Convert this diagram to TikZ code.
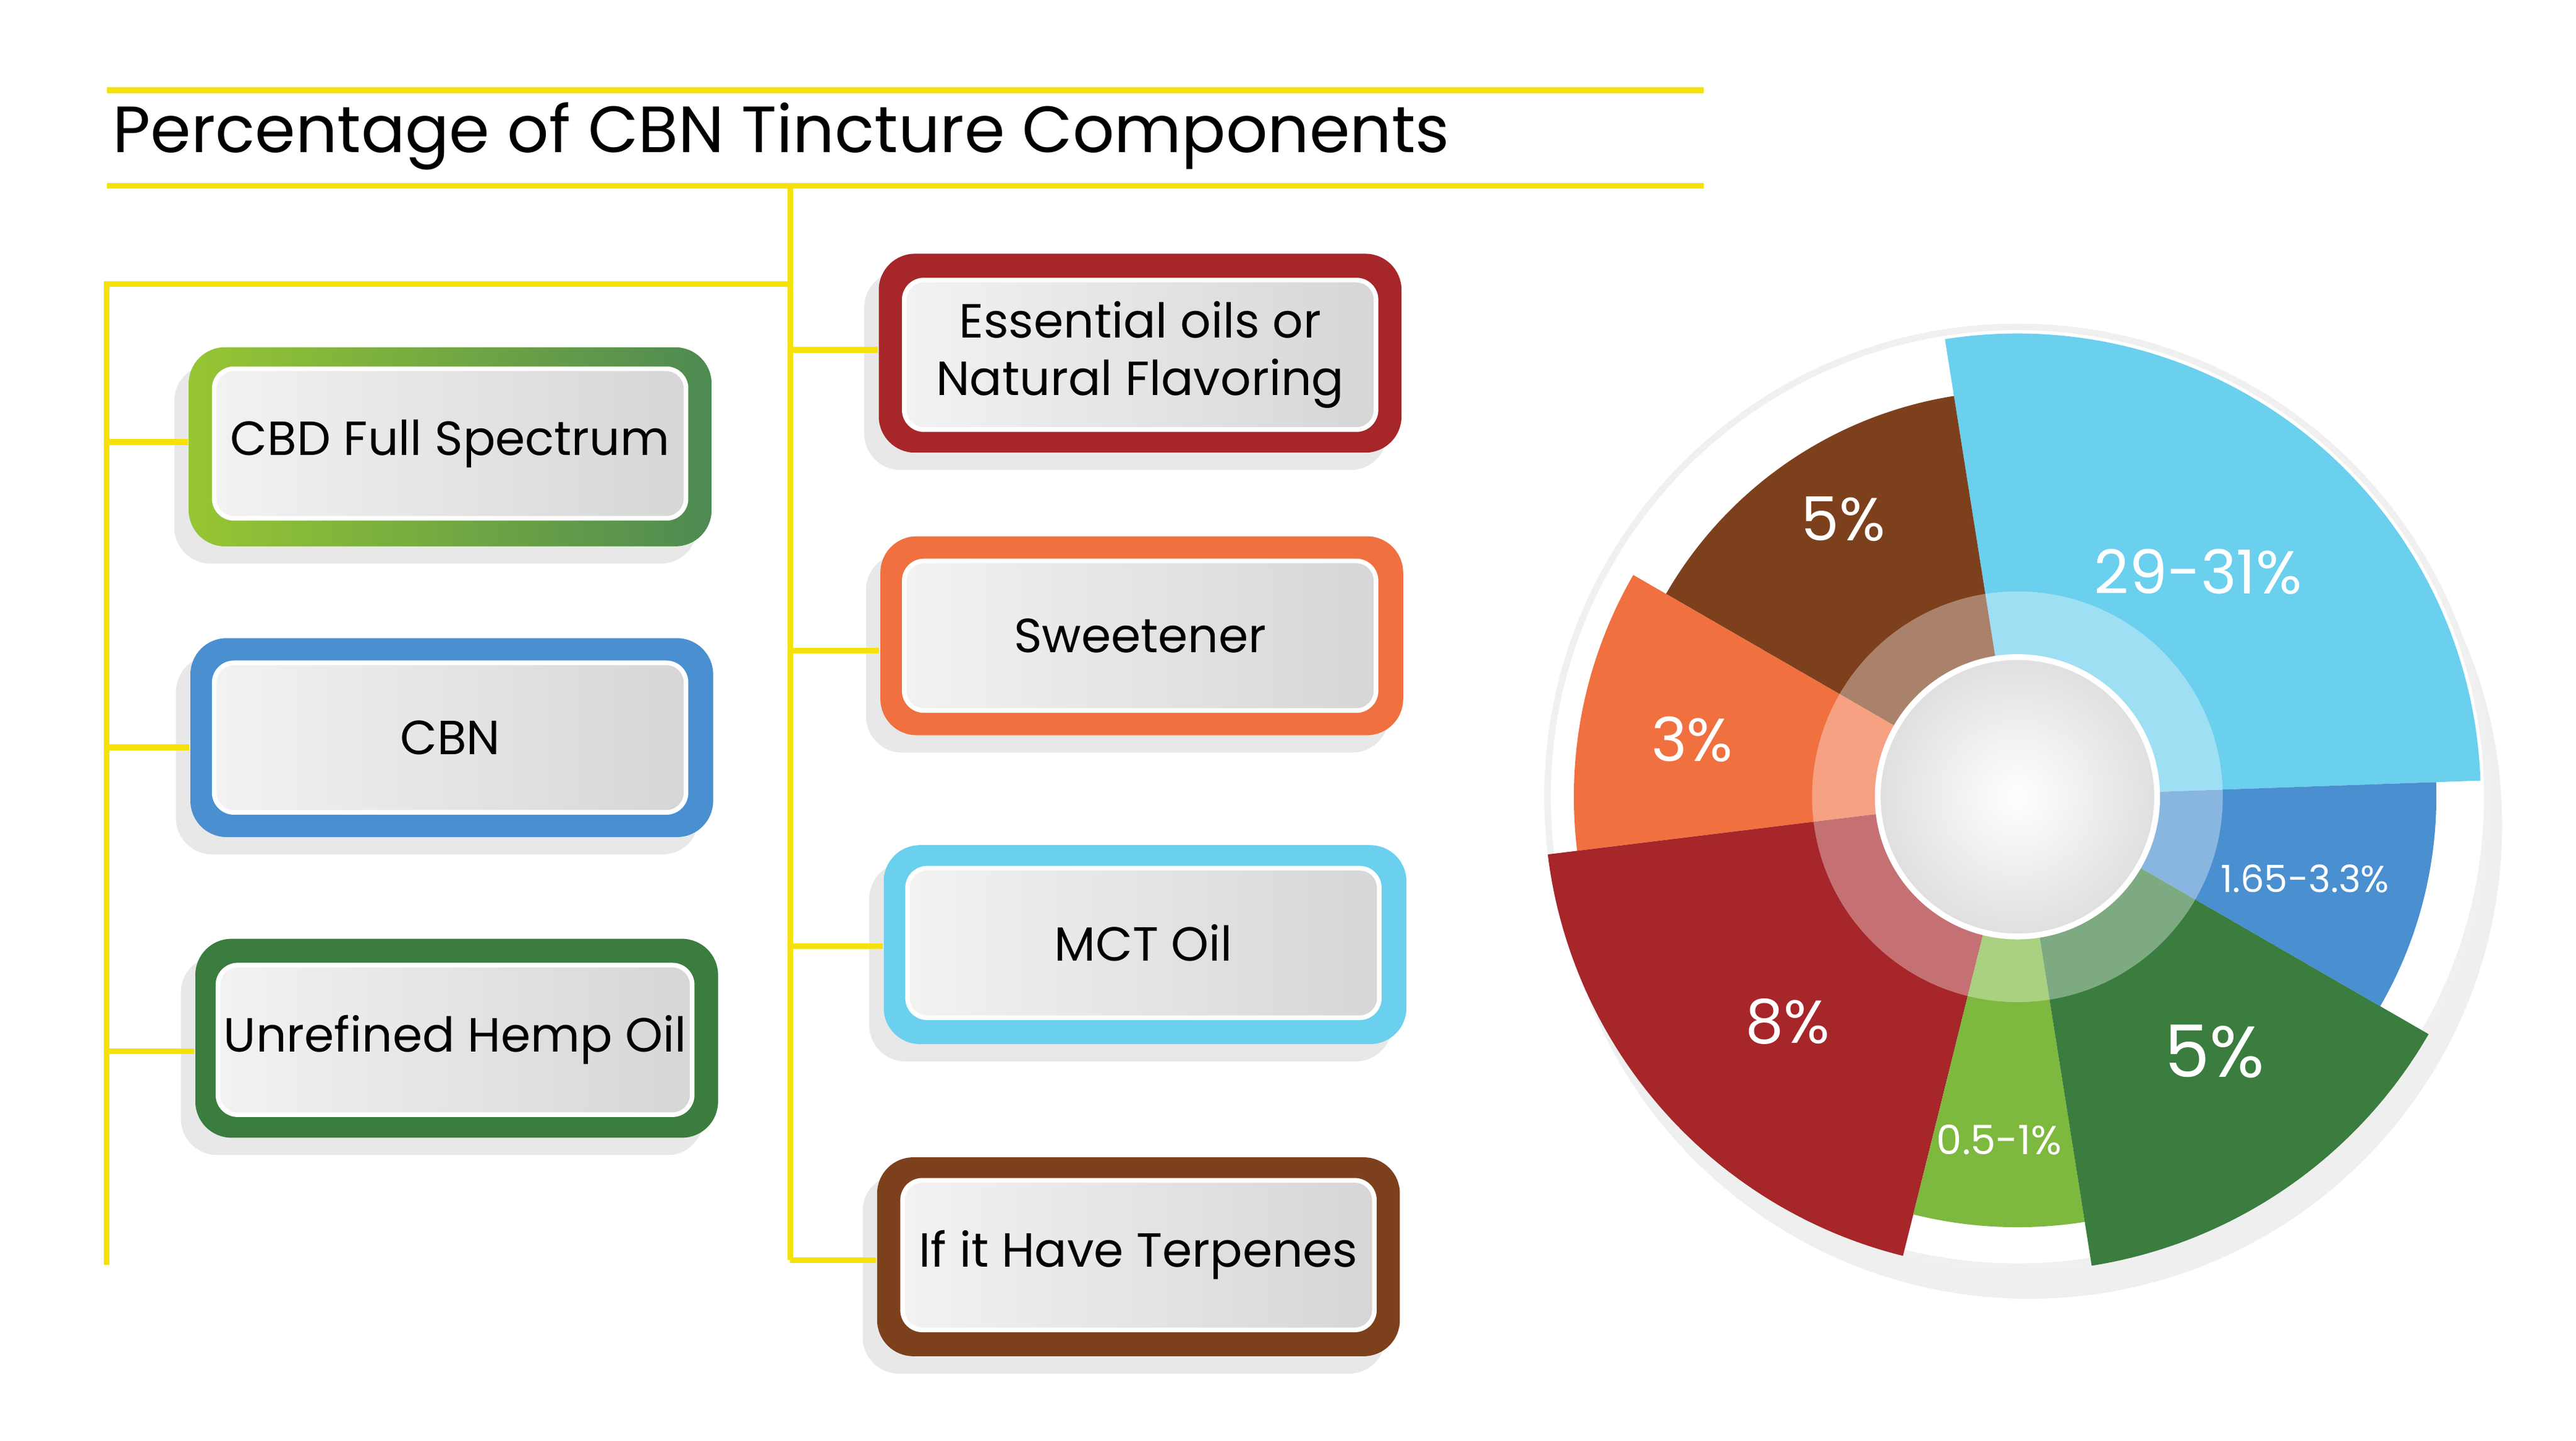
\documentclass[tikz,border=0pt]{standalone}
\usepackage{fontspec}
\setmainfont{Poppins}
\usetikzlibrary{positioning, shadows}
\definecolor{cgreen}{HTML}{3A7D3F}
\definecolor{clime}{HTML}{7DB83F}
\definecolor{cblue}{HTML}{4A8FD0}
\definecolor{cred}{HTML}{A6262A}
\definecolor{corange}{HTML}{F07040}
\definecolor{csky}{HTML}{6BCFEE}
\definecolor{cbrown}{HTML}{7D401D}
\definecolor{cyel}{HTML}{F5E10A}
\tikzset{
  frame/.style={rounded corners=0.22cm, minimum width=3.18cm, minimum height=1.21cm, fill=#1,
    drop shadow={shadow xshift=-2.5pt, shadow yshift=-3pt, fill=gray!35}},
  tag/.style={rounded corners=0.12cm, minimum width=2.87cm, minimum height=0.91cm,
    left color=gray!10, right color=gray!32, draw=white, line width=0.8pt,
    font=\fontsize{8.3}{10}\selectfont, align=center, inner sep=1pt},
  branch/.style={cyel, line width=1pt},
  pct/.style={text=white, font=\fontsize{#1}{#1}\selectfont}
}
\begin{document}
\begin{tikzpicture}[x=0.01cm, y=-0.01cm]
\useasboundingbox (0,0) rectangle (1568,877);
% title and rules
\draw[branch] (65,55) -- (1037,55);
\draw[branch] (65,113) -- (1037,113);
\node[anchor=west, inner sep=0pt, font=\fontsize{11.3}{13}\selectfont] (title) at (68,83) {Percentage of CBN Tincture Components};
\coordinate (top) at (481,113);
\coordinate (bot) at (481,767);
\coordinate (lcorner) at (65,173);
\coordinate (lend) at (65,770);
\draw[branch] (top) -- (bot);
\draw[branch] (481,173) -- (lcorner) -- (lend);
% left boxes
\node[frame=clime, left color=clime!80!yellow, right color=cgreen!90] (f1) at (274,272) {};
\node[tag] (b1) at (274,270) {CBD Full Spectrum};
\node[frame=cblue] (f2) at (275,449) {};
\node[tag] (b2) at (274,449) {CBN};
\node[frame=cgreen] (f3) at (278,632) {};
\node[tag] (b3) at (277,633) {Unrefined Hemp Oil};
% right boxes
\node[frame=cred] (f4) at (694,215) {};
\node[tag] (b4) at (694,216) {Essential oils or\\Natural Flavoring};
\node[frame=corange] (f5) at (695,387) {};
\node[tag] (b5) at (694,387) {Sweetener};
\node[frame=csky] (f6) at (697,575) {};
\node[tag] (b6) at (696,574) {MCT Oil};
\node[frame=cbrown] (f7) at (693,765) {};
\node[tag] (b7) at (693,764) {If it Have Terpenes};
% branches
\foreach \f/\y in {f1/269, f2/455, f3/640} {
  \coordinate (tmp) at (65,\y);
  \draw[branch] (tmp) -- (\f.west |- tmp);
}
\foreach \f/\y in {f4/213, f5/396, f6/576, f7/767} {
  \coordinate (tmp) at (481,\y);
  \draw[branch] (tmp) -- (\f.west |- tmp);
}
% donut chart
\begin{scope}[shift={(1228,485)}, y=0.01cm]
  \fill[gray!12, drop shadow={shadow xshift=2pt, shadow yshift=-5pt, fill=gray!25}] (0,0) circle (288);
  \fill[white] (0,0) circle (284);
  \fill[csky]    (0,0) -- (2:282) arc (2:99:282) -- cycle;
  \fill[cbrown]  (0,0) -- (99:247) arc (99:150:247) -- cycle;
  \fill[corange] (0,0) -- (150:270) arc (150:187:270) -- cycle;
  \fill[cred]    (0,0) -- (187:288) arc (187:256:288) -- cycle;
  \fill[clime]   (0,0) -- (256:262) arc (256:279:262) -- cycle;
  \fill[cgreen]  (0,0) -- (279:289) arc (279:330:289) -- cycle;
  \fill[cblue]   (0,0) -- (330:255) arc (330:362:255) -- cycle;
  \fill[white, opacity=0.35] (0,0) circle (125);
  \node[circle, minimum size=1.7cm, draw=white, line width=1pt, inner color=white, outer color=gray!25] (hub) at (0,0) {};
  \node[pct=10.5] (p1) at (110,137) {29-31\%};
  \node[pct=10.5] (p2) at (-106,169) {5\%};
  \node[pct=10.5] (p3) at (-198,35) {3\%};
  \node[pct=10.5] (p4) at (-140,-137) {8\%};
  \node[pct=7] (p5) at (-11,-209) {0.5-1\%};
  \node[pct=12.5] (p6) at (120,-155) {5\%};
  \node[pct=6.5] (p7) at (175,-50) {1.65-3.3\%};
\end{scope}
\end{tikzpicture}
\end{document}
